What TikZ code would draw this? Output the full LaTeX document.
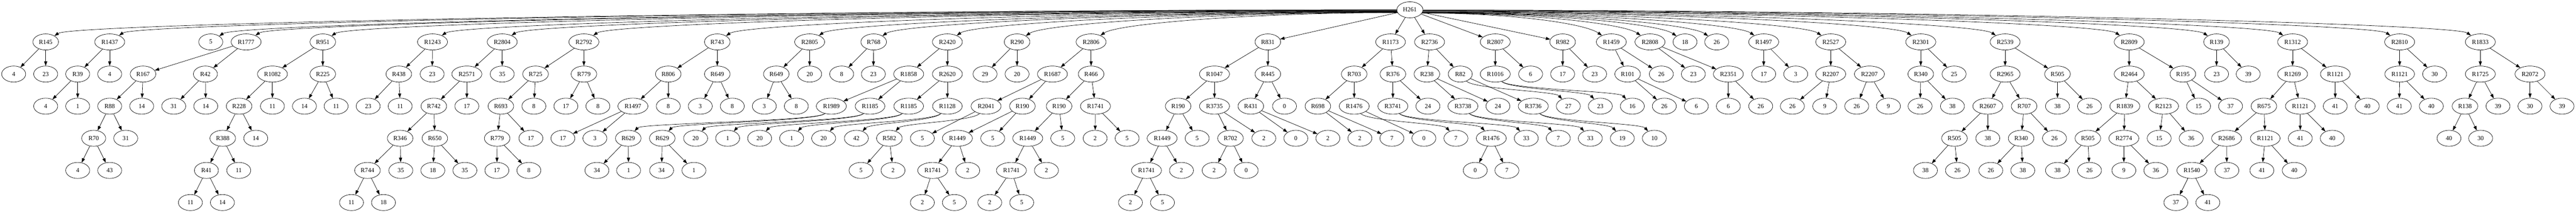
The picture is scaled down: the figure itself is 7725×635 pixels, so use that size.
\documentclass[tikz,border=0pt]{standalone}
\usepackage{fontspec}
\setmainfont{Liberation Serif}
\usetikzlibrary{shapes.geometric,arrows.meta}

\begin{document}
\begin{tikzpicture}[x=0.75pt,y=-0.75pt,
    gnode/.style={ellipse,draw,line width=0.8pt,minimum width=54pt,minimum height=36pt,inner xsep=5.2pt,inner ysep=2pt,font=\fontsize{14}{16}\selectfont},
    garrow/.style={line width=0.8pt,-{Triangle[length=10pt,width=7pt]}}]
    \useasboundingbox (0,0) rectangle (7725,635);
    \node[gnode] (a4228) at (4228,29.3) {H261};
    \foreach \x/\t in {137/R145,329/R1437,632/5,738/R1777,968/R951,1297/R1243,1506/R2804,1751/R2792,2151/R743,2428/R2805,2620/R768,2841/R2420,3050/R290,3272/R2806,3802/R831,4170/R1173,4287/R2736,4484/R2807,4686/R982,4832/R1459,4948/R2808,5053/18,5148/26,5289/R1497,5490/R2527,5760/R2301,6013/R2539,6385/R2809,6647/R139,6875/R1312,7196/R2810,7438/R1833}
        \node[gnode] (b\x) at (\x,125.3) {\t};
    \foreach \x/\t in {41/4,137/23,233/R39,329/4,429/R167,616/R42,817/R1082,968/R225,1196/R438,1296/23,1400/R2571,1506/35,1606/R725,1751/R779,2004/R806,2151/R649,2328/R649,2428/20,2524/8,2619/23,2725/R1858,2841/R2620,2954/29,3050/20,3156/R1687,3272/R466,3642/R1047,3802/R445,4061/R703,4177/R376,4279/R238,4379/R82,4484/R1016,4590/6,4686/17,4782/23,4881/R101,4982/26,5078/23,5183/R2351,5289/17,5385/3,5490/R2207,5606/R2207,5760/R340,5860/25,6013/R2965,6170/R505,6385/R2464,6546/R195,6647/23,6742/39,6875/R1269,7003/R1121,7196/R1121,7301/30,7438/R1725,7587/R2072}
        \node[gnode] (c\x) at (\x,221.3) {\t};
    \foreach \x/\t in {137/4,233/1,329/R88,425/14,521/31,617/14,717/R228,817/11,913/14,1008/11,1104/23,1200/11,1301/R742,1400/17,1502/R693,1601/8,1697/17,1793/8,1898/R1497,2004/8,2100/3,2196/8,2292/3,2388/8,2493/R1989,2609/R1185,2725/R1185,2841/R1128,2957/R2041,3066/R190,3176/R190,3285/R1741,3533/R190,3642/R3735,3751/R431,3852/0,3952/R698,4061/R1476,4177/R3741,4282/24,4387/R3738,4492/24,4598/R3736,4703/27,4799/23,4895/16,4991/26,5087/6,5183/6,5280/26,5375/26,5472/9,5568/26,5663/9,5758/26,5855/38,5961/R2607,6070/R707,6170/38,6266/26,6372/R1839,6488/R2123,6593/15,6689/37,6789/R675,6898/R1121,7003/41,7099/40,7195/41,7291/40,7392/R138,7491/39,7587/30,7683/39}
        \node[gnode] (d\x) at (\x,317.3) {\t};
    \foreach \x/\t in {281/R70,377/31,668/R388,767/14,1200/R346,1304/R650,1491/R779,1592/17,1688/17,1784/3,1884/R629,1986/R629,2086/20,2182/1,2278/20,2374/1,2470/20,2568/42,2667/R582,2766/5,2871/R1449,2977/5,3082/R1449,3187/5,3284/2,3380/5,3485/R1449,3590/5,3690/R702,3790/2,3886/0,3982/2,4078/2,4174/7,4270/0,4366/7,4472/R1476,4577/33,4673/7,4769/33,4865/19,4961/10,5861/R505,5961/38,6061/R340,6161/26,6261/R505,6369/R2774,6475/15,6571/36,6677/R2686,6793/R1121,6898/41,6994/40,7344/40,7439/30}
        \node[gnode] (e\x) at (\x,413.3) {\t};
    \foreach \x/\t in {233/4,329/43,619/R41,716/11,1102/R744,1202/35,1298/18,1394/35,1490/17,1586/8,1790/34,1885/1,1984/34,2081/1,2582/5,2678/2,2797/R1741,2902/2,3033/R1741,3138/2,3438/R1741,3543/2,3641/2,3737/0,4424/0,4519/7,5774/38,5870/26,5970/26,6066/38,6170/38,6266/26,6369/9,6465/36,6573/R1540,6678/37,6783/41,6880/40}
        \node[gnode] (f\x) at (\x,509.3) {\t};
    \foreach \x/\t in {571/11,667/14,1054/11,1150/18,2766/2,2862/5,2968/2,3064/5,3390/2,3486/5,6525/37,6621/41}
        \node[gnode] (g\x) at (\x,605.3) {\t};

    \foreach \x in {137,329,632,738,968,1297,1506,1751,2151,2428,2620,2841,3050,3272}{
        \pgfmathsetmacro\ang{180+18*(1-(4228-\x)/4100)}
        \draw[garrow] (a4228.\ang) .. controls +({0.45*(\x-4228)},0) and +(80,-55) .. (b\x);
    }
    \foreach \x in {4832,4948,5053,5148,5289,5490,5760,6013,6385,6647,6875,7196,7438}{
        \pgfmathsetmacro\ang{360-18*(1-(\x-4228)/3300)}
        \draw[garrow] (a4228.\ang) .. controls +({0.45*(\x-4228)},0) and +(-80,-55) .. (b\x);
    }
    \foreach \x in {3802,4170,4287,4484,4686}
        \draw[garrow] (a4228) -- (b\x);

    \foreach \p/\c in {b137/c41,b137/c137,b329/c233,b329/c329,b738/c429,b738/c616,b968/c817,b968/c968,b1297/c1196,b1297/c1296,b1506/c1400,b1506/c1506,b1751/c1606,b1751/c1751,b2151/c2004,b2151/c2151,b2428/c2328,b2428/c2428,b2620/c2524,b2620/c2619,b2841/c2725,b2841/c2841,b3050/c2954,b3050/c3050,b3272/c3156,b3272/c3272,b3802/c3642,b3802/c3802,b4170/c4061,b4170/c4177,b4287/c4279,b4287/c4379,b4484/c4484,b4484/c4590,b4686/c4686,b4686/c4782,b4832/c4881,b4832/c4982,b4948/c5078,b4948/c5183,b5289/c5289,b5289/c5385,b5490/c5490,b5490/c5606,b5760/c5760,b5760/c5860,b6013/c6013,b6013/c6170,b6385/c6385,b6385/c6546,b6647/c6647,b6647/c6742,b6875/c6875,b6875/c7003,b7196/c7196,b7196/c7301,b7438/c7438,b7438/c7587}
        \draw[garrow] (\p) -- (\c);
    \foreach \p/\c in {c233/d137,c233/d233,c429/d329,c429/d425,c616/d521,c616/d617,c817/d717,c817/d817,c968/d913,c968/d1008,c1196/d1104,c1196/d1200,c1400/d1301,c1400/d1400,c1606/d1502,c1606/d1601,c1751/d1697,c1751/d1793,c2004/d1898,c2004/d2004,c2151/d2100,c2151/d2196,c2328/d2292,c2328/d2388,c2725/d2493,c2725/d2609,c2841/d2725,c2841/d2841,c3156/d2957,c3156/d3066,c3272/d3176,c3272/d3285,c3642/d3533,c3642/d3642,c3802/d3751,c3802/d3852,c4061/d3952,c4061/d4061,c4177/d4177,c4177/d4282,c4279/d4387,c4279/d4492,c4379/d4598,c4881/d4991,c4881/d5087,c5183/d5183,c5183/d5280,c5490/d5375,c5490/d5472,c5606/d5568,c5606/d5663,c5760/d5758,c5760/d5855,c6013/d5961,c6013/d6070,c6170/d6170,c6170/d6266,c6385/d6372,c6385/d6488,c6546/d6593,c6546/d6689,c6875/d6789,c6875/d6898,c7003/d7003,c7003/d7099,c7196/d7195,c7196/d7291,c7438/d7392,c7438/d7491,c7587/d7587,c7587/d7683}
        \draw[garrow] (\p) -- (\c);
    \foreach \p/\c in {d329/e281,d329/e377,d717/e668,d717/e767,d1301/e1200,d1301/e1304,d1502/e1491,d1502/e1592,d1898/e1688,d1898/e1784,d2957/e2766,d3066/e2871,d3066/e2977,d3176/e3082,d3176/e3187,d3285/e3284,d3285/e3380,d3533/e3485,d3533/e3590,d3642/e3690,d3642/e3790,d3751/e3886,d3751/e3982,d3952/e4078,d3952/e4174,d4061/e4270,d5961/e5861,d5961/e5961,d6070/e6061,d6070/e6161,d6372/e6261,d6372/e6369,d6488/e6475,d6488/e6571,d6789/e6677,d6789/e6793,d6898/e6898,d6898/e6994,d7392/e7344,d7392/e7439}
        \draw[garrow] (\p) -- (\c);
    \foreach \p/\c in {e281/f233,e281/f329,e668/f619,e668/f716,e1200/f1102,e1200/f1202,e1304/f1298,e1304/f1394,e1491/f1490,e1491/f1586,e1884/f1790,e1884/f1885,e1986/f1984,e1986/f2081,e2667/f2582,e2667/f2678,e2871/f2797,e2871/f2902,e3082/f3033,e3082/f3138,e3485/f3438,e3485/f3543,e3690/f3641,e3690/f3737,e4472/f4424,e4472/f4519,e5861/f5774,e5861/f5870,e6061/f5970,e6061/f6066,e6261/f6170,e6261/f6266,e6369/f6369,e6369/f6465,e6677/f6573,e6677/f6678,e6793/f6783,e6793/f6880}
        \draw[garrow] (\p) -- (\c);
    \foreach \p/\c in {f619/g571,f619/g667,f1102/g1054,f1102/g1150,f2797/g2766,f2797/g2862,f3033/g2968,f3033/g3064,f3438/g3390,f3438/g3486,f6573/g6525,f6573/g6621}
        \draw[garrow] (\p) -- (\c);

    \foreach \p/\c in {d2493/e1884,d2493/e1986,d2609/e2086,d2609/e2182,d2725/e2278,d2725/e2374,d2841/e2470,d2841/e2568,d2957/e2667}
        \draw[garrow] (\p) .. controls +(-40,45) and +(40,-45) .. (\c);
    \foreach \p/\c in {d4061/e4366,d4177/e4472,d4177/e4577,d4387/e4673,d4387/e4769,d4598/e4865,d4598/e4961,c4379/d4703,c4484/d4799,c4484/d4895}
        \draw[garrow] (\p) .. controls +(40,45) and +(-40,-45) .. (\c);
\end{tikzpicture}
\end{document}
